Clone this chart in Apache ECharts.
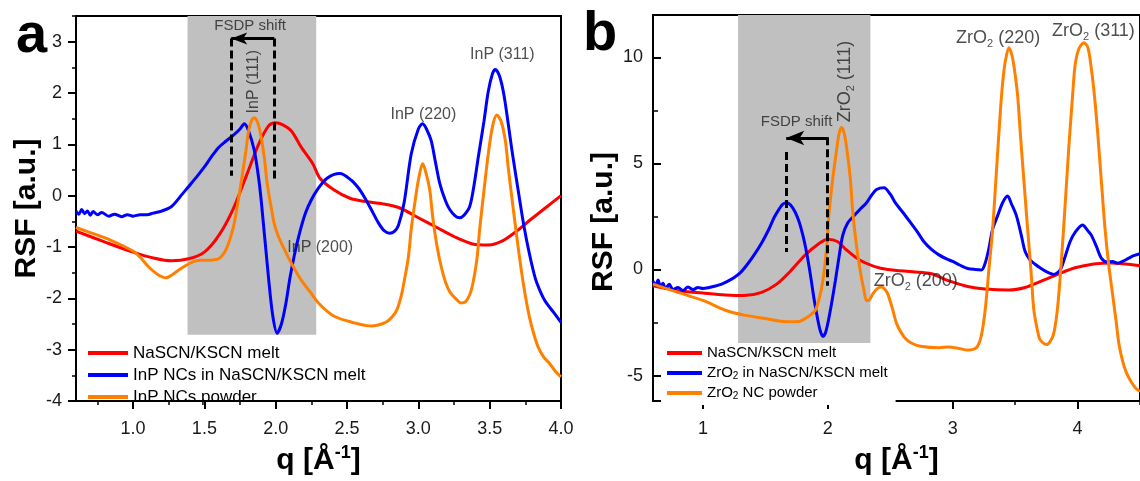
<!DOCTYPE html>
<html><head><meta charset="utf-8">
<script src="https://cdn.jsdelivr.net/npm/echarts@6/dist/echarts.min.js"></script>
<style>html,body{margin:0;padding:0;background:#fff}#c{width:1140px;height:481px}</style>
</head><body><div id="c"></div><script>
// ---------- Panel a data: q [1/Å], RSF [a.u.] ----------
const redA = [[0.6,-0.69],[0.8,-0.90],[1.0,-1.10],[1.15,-1.22],[1.27,-1.27],[1.39,-1.23],[1.5,-1.10],[1.6,-0.78],[1.7,-0.27],[1.8,0.43],[1.88,1.0],[1.95,1.36],[2.0,1.42],[2.05,1.38],[2.11,1.26],[2.18,0.94],[2.26,0.62],[2.31,0.34],[2.41,0.11],[2.52,-0.05],[2.62,-0.11],[2.75,-0.16],[2.87,-0.24],[3.0,-0.43],[3.13,-0.62],[3.26,-0.81],[3.38,-0.94],[3.49,-0.96],[3.59,-0.88],[3.69,-0.69],[3.79,-0.46],[3.89,-0.24],[4.0,0.0]];
const blueA = [[0.6,-0.30],[0.62,-0.36],[0.64,-0.27],[0.66,-0.35],[0.68,-0.30],[0.70,-0.38],[0.72,-0.31],[0.75,-0.37],[0.78,-0.33],[0.83,-0.40],[0.87,-0.36],[0.92,-0.41],[0.96,-0.37],[1.0,-0.40],[1.05,-0.37],[1.1,-0.37],[1.14,-0.34],[1.2,-0.30],[1.27,-0.21],[1.33,-0.02],[1.39,0.18],[1.45,0.38],[1.5,0.56],[1.55,0.76],[1.6,0.94],[1.65,1.06],[1.7,1.17],[1.75,1.30],[1.78,1.40],[1.81,1.26],[1.85,0.88],[1.88,0.35],[1.9,-0.14],[1.95,-1.61],[1.98,-2.35],[2.01,-2.68],[2.04,-2.50],[2.07,-2.12],[2.1,-1.6],[2.13,-1.17],[2.17,-0.7],[2.21,-0.33],[2.25,-0.08],[2.29,0.11],[2.36,0.34],[2.45,0.43],[2.53,0.30],[2.58,0.15],[2.62,-0.02],[2.67,-0.27],[2.72,-0.53],[2.76,-0.68],[2.80,-0.73],[2.83,-0.70],[2.86,-0.58],[2.9,-0.14],[2.95,0.81],[3.0,1.30],[3.03,1.40],[3.06,1.28],[3.09,1.07],[3.12,0.65],[3.15,0.24],[3.19,-0.10],[3.22,-0.27],[3.26,-0.40],[3.29,-0.43],[3.32,-0.38],[3.36,-0.21],[3.39,0.2],[3.42,0.75],[3.46,1.45],[3.49,2.03],[3.52,2.38],[3.54,2.46],[3.57,2.32],[3.6,1.96],[3.63,1.40],[3.66,0.81],[3.70,0.1],[3.74,-0.59],[3.78,-1.15],[3.82,-1.61],[3.86,-1.90],[3.89,-2.06],[3.95,-2.28],[4.0,-2.47]];
const orangeA = [[0.6,-0.62],[0.7,-0.72],[0.83,-0.85],[0.93,-0.98],[1.0,-1.08],[1.05,-1.2],[1.11,-1.39],[1.17,-1.53],[1.23,-1.60],[1.28,-1.53],[1.32,-1.45],[1.37,-1.36],[1.42,-1.29],[1.47,-1.26],[1.52,-1.26],[1.57,-1.25],[1.60,-1.23],[1.63,-1.15],[1.66,-1.0],[1.69,-0.75],[1.71,-0.53],[1.74,-0.05],[1.76,0.30],[1.79,0.85],[1.81,1.26],[1.83,1.46],[1.85,1.52],[1.87,1.45],[1.89,1.26],[1.92,0.75],[1.94,0.24],[1.97,-0.25],[1.99,-0.55],[2.02,-0.8],[2.06,-1.04],[2.13,-1.42],[2.18,-1.65],[2.24,-1.87],[2.31,-2.12],[2.41,-2.35],[2.54,-2.47],[2.67,-2.54],[2.77,-2.47],[2.82,-2.35],[2.85,-2.22],[2.88,-1.95],[2.90,-1.68],[2.93,-1.2],[2.95,-0.65],[2.98,-0.05],[3.0,0.30],[3.03,0.62],[3.05,0.48],[3.08,0.11],[3.1,-0.4],[3.13,-0.97],[3.16,-1.38],[3.19,-1.68],[3.22,-1.87],[3.26,-2.00],[3.3,-2.09],[3.33,-2.07],[3.36,-1.93],[3.38,-1.74],[3.41,-1.25],[3.43,-0.65],[3.46,0.1],[3.49,0.81],[3.52,1.35],[3.55,1.57],[3.58,1.45],[3.61,1.07],[3.63,0.55],[3.66,-0.14],[3.69,-0.8],[3.72,-1.42],[3.75,-1.95],[3.78,-2.38],[3.81,-2.7],[3.84,-2.95],[3.88,-3.15],[3.92,-3.27],[3.96,-3.42],[4.0,-3.53]];

// ---------- Panel b data ----------
const redB = [[0.6,-0.77],[0.8,-1.0],[1.0,-1.11],[1.18,-1.2],[1.33,-1.23],[1.47,-1.08],[1.59,-0.69],[1.70,-0.08],[1.82,0.69],[1.93,1.23],[2.0,1.43],[2.08,1.31],[2.15,0.92],[2.25,0.46],[2.37,0.15],[2.48,0.0],[2.68,-0.11],[2.83,-0.2],[2.97,-0.54],[3.12,-0.8],[3.26,-0.92],[3.45,-0.97],[3.58,-0.85],[3.70,-0.57],[3.84,-0.23],[3.98,0.08],[4.13,0.26],[4.27,0.31],[4.5,0.18]];
const blueB = [[0.6,-0.54],[0.62,-0.75],[0.64,-0.5],[0.66,-0.8],[0.68,-0.65],[0.7,-0.9],[0.73,-0.7],[0.76,-0.95],[0.8,-0.85],[0.84,-1.0],[0.88,-0.82],[0.92,-0.95],[0.96,-0.85],[1.0,-0.9],[1.05,-0.85],[1.1,-0.78],[1.15,-0.69],[1.2,-0.55],[1.25,-0.38],[1.3,-0.15],[1.35,0.2],[1.41,0.69],[1.47,1.25],[1.53,1.92],[1.57,2.45],[1.61,2.85],[1.64,3.08],[1.67,3.15],[1.7,3.05],[1.74,2.69],[1.77,2.25],[1.8,1.62],[1.83,0.8],[1.86,-0.23],[1.89,-1.4],[1.92,-2.38],[1.94,-2.9],[1.96,-3.15],[1.98,-3.0],[2.0,-2.54],[2.03,-1.6],[2.06,-0.54],[2.09,0.6],[2.12,1.62],[2.16,2.2],[2.21,2.54],[2.26,2.85],[2.31,3.15],[2.35,3.5],[2.39,3.77],[2.45,3.85],[2.5,3.55],[2.54,3.15],[2.6,2.7],[2.66,2.23],[2.72,1.75],[2.77,1.31],[2.83,0.95],[2.89,0.69],[2.95,0.5],[3.0,0.38],[3.06,0.2],[3.12,0.05],[3.18,0.0],[3.23,-0.02],[3.26,0.3],[3.29,1.0],[3.32,1.9],[3.36,2.54],[3.4,3.15],[3.44,3.46],[3.47,3.1],[3.51,2.54],[3.55,1.6],[3.58,0.85],[3.62,0.45],[3.66,0.25],[3.7,0.08],[3.75,-0.1],[3.81,-0.23],[3.84,-0.15],[3.87,0.08],[3.9,0.6],[3.94,1.31],[3.98,1.75],[4.04,2.1],[4.08,1.85],[4.11,1.62],[4.15,1.1],[4.19,0.54],[4.24,0.35],[4.28,0.38],[4.32,0.3],[4.36,0.38],[4.4,0.5],[4.45,0.65],[4.5,0.75]];
const orangeB = [[0.6,-0.69],[0.8,-1.08],[1.0,-1.46],[1.18,-1.92],[1.33,-2.15],[1.5,-2.31],[1.67,-2.46],[1.77,-2.45],[1.82,-2.31],[1.87,-2.1],[1.9,-1.92],[1.93,-1.4],[1.96,-0.54],[1.99,1.0],[2.01,2.69],[2.04,4.3],[2.07,5.62],[2.09,6.4],[2.11,6.69],[2.13,6.45],[2.15,5.77],[2.18,4.3],[2.2,2.69],[2.23,1.1],[2.26,-0.08],[2.29,-1.0],[2.31,-1.46],[2.33,-1.45],[2.36,-1.15],[2.4,-0.88],[2.43,-0.82],[2.46,-0.95],[2.48,-1.15],[2.52,-1.9],[2.55,-2.54],[2.59,-3.0],[2.63,-3.31],[2.68,-3.5],[2.74,-3.62],[2.89,-3.69],[2.97,-3.65],[3.05,-3.72],[3.12,-3.80],[3.17,-3.75],[3.2,-3.62],[3.23,-3.1],[3.26,-1.92],[3.29,0.0],[3.32,1.92],[3.35,4.6],[3.38,7.31],[3.4,8.8],[3.42,9.77],[3.45,10.46],[3.47,10.2],[3.49,9.62],[3.52,8.2],[3.54,6.54],[3.57,4.2],[3.6,1.92],[3.63,-0.3],[3.65,-1.92],[3.68,-2.9],[3.7,-3.31],[3.75,-3.54],[3.78,-3.4],[3.81,-3.0],[3.84,-1.8],[3.87,0.38],[3.9,3.0],[3.93,5.77],[3.96,8.2],[3.98,9.62],[4.01,10.4],[4.05,10.69],[4.08,10.5],[4.1,9.92],[4.13,8.5],[4.16,6.54],[4.19,4.2],[4.22,1.92],[4.25,0.2],[4.28,-1.15],[4.31,-2.5],[4.33,-3.46],[4.36,-4.3],[4.39,-4.85],[4.43,-5.3],[4.47,-5.62],[4.5,-5.75]];

// ---------- ticks ----------
const xTicksA = [1.0,1.5,2.0,2.5,3.0,3.5,4.0];
const xMinorA = [0.75,1.25,1.75,2.25,2.75,3.25,3.75];
const yTicksA = [-4,-3,-2,-1,0,1,2,3];
const yMinorA = [-3.5,-2.5,-1.5,-0.5,0.5,1.5,2.5,3.5];
const xTicksB = [1,2,3,4];
const xMinorB = [1.5,2.5,3.5,4.5];
const yTicksB = [-5,0,5,10];
const yMinorB = [-2.5,2.5,7.5];

// ---------- legend names ----------
const namesA = ['NaSCN/KSCN melt','InP NCs in NaSCN/KSCN melt','InP NCs powder'];
const namesB = ['NaSCN/KSCN melt ','ZrO2 in NaSCN/KSCN melt','ZrO2 NC powder'];
const legendTextB = {
  'NaSCN/KSCN melt ':'{t|NaSCN/KSCN melt}',
  'ZrO2 in NaSCN/KSCN melt':'{t|ZrO}{s|2}{t| in NaSCN/KSCN melt}',
  'ZrO2 NC powder':'{t|ZrO}{s|2}{t| NC powder}'
};

// ---------- annotations (data coordinates) ----------
const annotA = [
  {text:'FSDP shift', q:1.821, v:3.30, size:15},
  {text:'InP (111)', q:1.842, v:2.22, size:16, rot:90},
  {text:'InP (200)', q:2.312, v:-1.02, size:16},
  {text:'InP (220)', q:3.035, v:1.57, size:16},
  {text:'InP (311)', q:3.589, v:2.74, size:16}
];
const annotB = [
  {text:'FSDP shift', q:1.750, v:6.97, size:15},
  {text:'{t|ZrO}{s|2}{t| (111)}', q:2.14, v:8.86, size:18, rot:90},
  {text:'{t|ZrO}{s|2}{t| (200)}', q:2.704, v:-0.55, size:18},
  {text:'{t|ZrO}{s|2}{t| (220)}', q:3.364, v:10.9, size:18},
  {text:'{t|ZrO}{s|2}{t| (311)}', q:4.127, v:11.23, size:18}
];
const shadeA = [1.382, 2.284, -2.71, 3.5];
const shadeB = [1.281, 2.341, -6.2, 12];
const shiftA = {left:1.688, right:1.99, top:3.06, leftBottom:0.39, rightBottom:0.32, arrowY:3.06};
const shiftB = {left:1.667, right:1.997, leftTop:5.54, rightTop:6.23, leftBottom:0.83, rightBottom:-0.77, arrowY:6.2};

const FONT = "'Liberation Sans', Arial, sans-serif";
const TXT = '#1a1a1a';
const RED = '#ff0000', BLUE = '#0000ff', ORANGE = '#ff8000';

function mainX(grid, min, max, ticks, fmt, tickInside) {
  return {type:'value', gridIndex:grid, min:min, max:max, position:'bottom',
    axisLine:{show:true, onZero:false, lineStyle:{color:'#000', width:2}},
    axisTick:{show:true, inside:!!tickInside, length:8, customValues:ticks, lineStyle:{color:'#000', width:2}},
    axisLabel:{show:true, customValues:ticks, formatter:fmt, margin:19, fontSize:18, color:TXT, fontFamily:FONT},
    splitLine:{show:false}};
}
function minorX(grid, min, max, ticks, tickInside) {
  return {type:'value', gridIndex:grid, min:min, max:max, position:'bottom',
    axisLine:{show:false, onZero:false}, axisLabel:{show:false},
    axisTick:{show:true, inside:!!tickInside, length:4, customValues:ticks, lineStyle:{color:'#000', width:1.5}},
    splitLine:{show:false}};
}
function mainY(grid, min, max, ticks, fmt, tickInside, margin) {
  return {type:'value', gridIndex:grid, min:min, max:max, position:'left',
    axisLine:{show:true, onZero:false, lineStyle:{color:'#000', width:2}},
    axisTick:{show:true, inside:!!tickInside, length:8, customValues:ticks, lineStyle:{color:'#000', width:2}},
    axisLabel:{show:true, customValues:ticks, formatter:fmt, margin:margin, fontSize:18, color:TXT, fontFamily:FONT},
    splitLine:{show:false}};
}
function minorY(grid, min, max, ticks, tickInside, len) {
  return {type:'value', gridIndex:grid, min:min, max:max, position:'left',
    axisLine:{show:false, onZero:false}, axisLabel:{show:false},
    axisTick:{show:true, inside:!!tickInside, length:len, customValues:ticks, lineStyle:{color:'#000', width:1.5}},
    splitLine:{show:false}};
}
function lineSeries(name, data, color, xi, yi, extra) {
  return Object.assign({type:'line', name:name, data:data, xAxisIndex:xi, yAxisIndex:yi,
    showSymbol:false, symbol:'none', smooth:0.3, clip:true, silent:true, animation:false,
    lineStyle:{color:color, width:3}, itemStyle:{color:color}}, extra||{});
}
function annotSeries(list, xi, yi) {
  return {type:'scatter', xAxisIndex:xi, yAxisIndex:yi, symbolSize:1, silent:true, animation:false, z:6,
    itemStyle:{color:'rgba(0,0,0,0)'},
    data:list.map(a => ({value:[a.q, a.v], label:{show:true, position:'inside', formatter:a.text,
      rotate:a.rot||0, fontSize:a.size, color:'#222', fontFamily:FONT,
      rich:{t:{fontSize:a.size, lineHeight:a.size+4, color:'#222', fontFamily:FONT},
            s:{fontSize:Math.round(a.size*0.62), verticalAlign:'bottom', color:'#222', fontFamily:FONT}}}}))};
}
function dashed(x, y0, y1) {
  return [{coord:[x, y0], symbol:'none'}, {coord:[x, y1], symbol:'none'}];
}
function arrow(x0, x1, y, size) {
  return [{coord:[x0, y], symbol:'none', lineStyle:{type:'solid', width:3, color:'#000'}},
          {coord:[x1, y], symbol:'arrow', symbolSize:size}];
}
const axisTitle = {rich:{b:{fontSize:30, fontWeight:'bold', color:'#000', fontFamily:FONT, lineHeight:34},
                         p:{fontSize:18, fontWeight:'bold', color:'#000', fontFamily:FONT, verticalAlign:'top', lineHeight:18}}};

const chart = echarts.init(document.getElementById('c'), null, {renderer:'canvas'});
const option = {
  animation:false,
  backgroundColor:'#fff',
  textStyle:{fontFamily:FONT},
  grid:[
    {left:76, top:16, width:485, height:392, show:true, borderColor:'#000', borderWidth:2, backgroundColor:'transparent'},
    {left:653, top:15, width:491, height:394, show:true, borderColor:'#000', borderWidth:2, backgroundColor:'transparent'}
  ],
  xAxis:[
    Object.assign(mainX(0, 0.6, 4.0, xTicksA, v => Number(v).toFixed(1), false),
      {name:'{b|q [Å}{p|-1}{b|]}', nameLocation:'middle', nameGap:43, nameTextStyle:axisTitle}),
    minorX(0, 0.6, 4.0, xMinorA, false),
    Object.assign(mainX(1, 0.6, 4.5, xTicksB, v => String(v), false),
      {name:'{b|q [Å}{p|-1}{b|]}', nameLocation:'middle', nameGap:43, nameTextStyle:axisTitle}),
    minorX(1, 0.6, 4.5, xMinorB, false)
  ],
  yAxis:[
    Object.assign(mainY(0, -4, 3.5, yTicksA, v => String(v), false, 14),
      {name:'RSF [a.u.]', nameLocation:'middle', nameGap:34, nameRotate:90,
       nameTextStyle:{fontSize:30, fontWeight:'bold', color:'#000', fontFamily:FONT}}),
    minorY(0, -4, 3.5, yMinorA, false, 4),
    Object.assign(mainY(1, -6.2, 12, yTicksB, v => String(v), true, 10),
      {name:'RSF [a.u.]', nameLocation:'middle', nameGap:28, nameRotate:90,
       nameTextStyle:{fontSize:30, fontWeight:'bold', color:'#000', fontFamily:FONT, padding:[0,28,0,0]}}),
    minorY(1, -6.2, 12, yMinorB, true, 5)
  ],
  legend:[
    {orient:'vertical', left:88, top:344, padding:0, itemGap:4, itemWidth:40, itemHeight:4, icon:'rect',
     selectedMode:false, data:namesA, textStyle:{fontSize:17, lineHeight:18, color:'#000', fontFamily:FONT}},
    {orient:'vertical', left:661, top:343, padding:[2,8,4,6], itemGap:4, itemWidth:35, itemHeight:4, icon:'rect',
     backgroundColor:'#fff', selectedMode:false, data:namesB, formatter:n => legendTextB[n],
     textStyle:{fontSize:15, lineHeight:16, color:'#000', fontFamily:FONT,
       rich:{t:{fontSize:15, lineHeight:16, color:'#000', fontFamily:FONT},
             s:{fontSize:10, verticalAlign:'bottom', color:'#000', fontFamily:FONT}}}}
  ],
  graphic:[
    {type:'text', style:{x:16, y:37, text:'a', font:"bold 56px 'Liberation Sans', Arial, sans-serif", fill:'#000', textAlign:'left', textVerticalAlign:'middle', verticalAlign:'middle'}, z:10},
    {type:'text', style:{x:583, y:35, text:'b', font:"bold 56px 'Liberation Sans', Arial, sans-serif", fill:'#000', textAlign:'left', textVerticalAlign:'middle', verticalAlign:'middle'}, z:10}
  ],
  series:[
    lineSeries(namesA[0], redA, RED, 0, 0, {
      markArea:{silent:true, z:1, itemStyle:{color:'#c0c0c0', opacity:1},
        data:[[{coord:[shadeA[0], shadeA[2]]},{coord:[shadeA[1], shadeA[3]]}]]}}),
    lineSeries(namesA[1], blueA, BLUE, 0, 0),
    lineSeries(namesA[2], orangeA, ORANGE, 0, 0, {
      markLine:{silent:true, animation:false, symbol:'none', label:{show:false},
        lineStyle:{color:'#000', width:3, type:[8,4]},
        data:[dashed(shiftA.left, shiftA.top, shiftA.leftBottom),
              dashed(shiftA.right, shiftA.top, shiftA.rightBottom),
              arrow(shiftA.right, shiftA.left, shiftA.arrowY, [9,16])]}}),
    lineSeries(namesB[0], redB, RED, 2, 2, {
      markArea:{silent:true, z:1, itemStyle:{color:'#c0c0c0', opacity:1},
        data:[[{coord:[shadeB[0], shadeB[2]]},{coord:[shadeB[1], shadeB[3]]}]]}}),
    lineSeries(namesB[1], blueB, BLUE, 2, 2),
    lineSeries(namesB[2], orangeB, ORANGE, 2, 2, {
      markLine:{silent:true, animation:false, symbol:'none', label:{show:false},
        lineStyle:{color:'#000', width:3, type:[8,4]},
        data:[dashed(shiftB.left, shiftB.leftTop, shiftB.leftBottom),
              dashed(shiftB.right, shiftB.rightTop, shiftB.rightBottom),
              arrow(shiftB.right, shiftB.left, shiftB.arrowY, [11,18])]}}),
    annotSeries(annotA, 0, 0),
    annotSeries(annotB, 2, 2)
  ]
};
chart.setOption(option);
</script></body></html>
